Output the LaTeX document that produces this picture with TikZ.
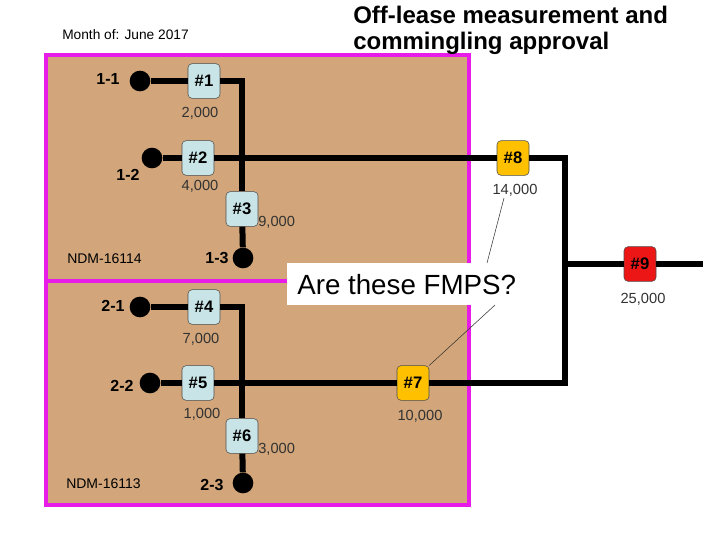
\documentclass[tikz,border=0pt]{standalone}
\usepackage{fontspec}
\setmainfont{Liberation Sans}
\definecolor{tan}{RGB}{210,166,122}
\definecolor{mag}{RGB}{232,28,232}
\definecolor{lblue}{RGB}{200,228,230}
\definecolor{gold}{RGB}{255,192,0}
\definecolor{redbox}{RGB}{236,22,22}
\definecolor{numgray}{RGB}{50,50,50}
\begin{document}
\begin{tikzpicture}[x=0.75pt,y=-0.75pt,
  meter/.style={draw=black!70, thin, rounded corners=3pt, minimum width=24pt, minimum height=26pt, inner sep=0pt, font=\fontsize{12.5}{14}\selectfont\bfseries},
  bluebox/.style={meter, fill=lblue},
  goldbox/.style={meter, fill=gold},
  redmeter/.style={meter, fill=redbox},
  welldot/.style={circle, fill=black, minimum size=15.5pt, inner sep=0pt},
  welllabel/.style={font=\fontsize{12}{14}\selectfont\bfseries, inner sep=0pt},
  vol/.style={font=\fontsize{11}{13}\selectfont, text=numgray, inner sep=0pt},
  pipe/.style={line width=4.5pt, line join=miter},
  lease/.style={draw=mag, line width=2.4pt, fill=tan}]
\useasboundingbox (0,0) rectangle (720,540);
% lease boxes
\draw[lease] (46,55) rectangle (469,281);
\draw[lease] (46,281) rectangle (469,505);
% title texts
\node[anchor=west, inner sep=0pt, font=\fontsize{10.3}{12}\selectfont] (month) at (62,35) {Month of: June 2017};
\node[anchor=north west, inner sep=0pt, align=left, font=\fontsize{18}{19.5}\selectfont\bfseries] (title) at (353,6) {Off-lease measurement and\\commingling approval};
% wells
\node[welldot] (d11) at (140,81) {};
\node[welldot] (d12) at (152,158) {};
\node[welldot] (d13) at (243,258) {};
\node[welldot] (d21) at (140,307) {};
\node[welldot] (d22) at (150,383) {};
\node[welldot] (d23) at (243,483) {};
\node[welllabel] (l11) at (108,79) {1-1};
\node[welllabel] (l12) at (128,175) {1-2};
\node[welllabel] (l13) at (217,258) {1-3};
\node[welllabel] (l21) at (113,306) {2-1};
\node[welllabel] (l22) at (122,386) {2-2};
\node[welllabel] (l23) at (212,485) {2-3};
% meters
\node[bluebox] (b1) at (204,81) {\#1};
\node[bluebox] (b2) at (198,158) {\#2};
\node[bluebox] (b3) at (242,209) {\#3};
\node[bluebox] (b4) at (204,307) {\#4};
\node[bluebox] (b5) at (198,383) {\#5};
\node[bluebox] (b6) at (242,436) {\#6};
\node[goldbox] (b7) at (413,383) {\#7};
\node[goldbox] (b8) at (513,158) {\#8};
\node[redmeter] (b9) at (640,264) {\#9};
% junctions
\coordinate (j1) at (242,158);
\coordinate (j2) at (242,383);
\coordinate (c8) at (565,158);
\coordinate (c7) at (565,383);
\coordinate (c9) at (565,264);
\coordinate (e9) at (703,264);
% pipes
\draw[pipe] (d11) -- (b1);
\draw[pipe] (b1) -| (j1) -- (b3);
\draw[pipe] (b3) -- (d13);
\draw[pipe] (d12) -- (b2);
\draw[pipe] (b2) -- (b8);
\draw[pipe] (b8) -| (c7) -- (b7);
\draw[pipe] (d21) -- (b4);
\draw[pipe] (b4) -| (j2) -- (b6);
\draw[pipe] (b6) -- (d23);
\draw[pipe] (d22) -- (b5);
\draw[pipe] (b5) -- (b7);
\draw[pipe] (c9) -- (b9);
\draw[pipe] (b9) -- (e9);
% volumes
\node[vol] (v1) at (200,113) {2,000};
\node[vol] (v2) at (200,186) {4,000};
\node[vol, anchor=west] (v3) at (258,222) {9,000};
\node[vol] (v8) at (515,190) {14,000};
\node[vol] (v4) at (201,339) {7,000};
\node[vol] (v5) at (202,414) {1,000};
\node[vol, anchor=west] (v6) at (258,449) {3,000};
\node[vol] (v7) at (420,416) {10,000};
\node[vol] (v9) at (643,299) {25,000};
% lease ids
\node[anchor=west, inner sep=0pt, font=\fontsize{10.5}{12}\selectfont] (ndm1) at (67,259) {NDM-16114};
\node[anchor=west, inner sep=0pt, font=\fontsize{10.5}{12}\selectfont] (ndm2) at (66,484) {NDM-16113};
% callout
\node[fill=white, anchor=north west, minimum width=174pt, minimum height=31.5pt, inner sep=0pt] (fmps) at (287,263) {};
\node[anchor=west, inner sep=0pt, font=\fontsize{20.8}{24}\selectfont] (q) at (297,285) {Are these FMPS?};
\coordinate (a8) at (487,263);
\coordinate (a7) at (495,305);
\coordinate (t8) at (504,198);
\draw[thin, black!80] (a8) -- (t8);
\draw[thin, black!80] (a7) -- (b7.north east);
\end{tikzpicture}
\end{document}
